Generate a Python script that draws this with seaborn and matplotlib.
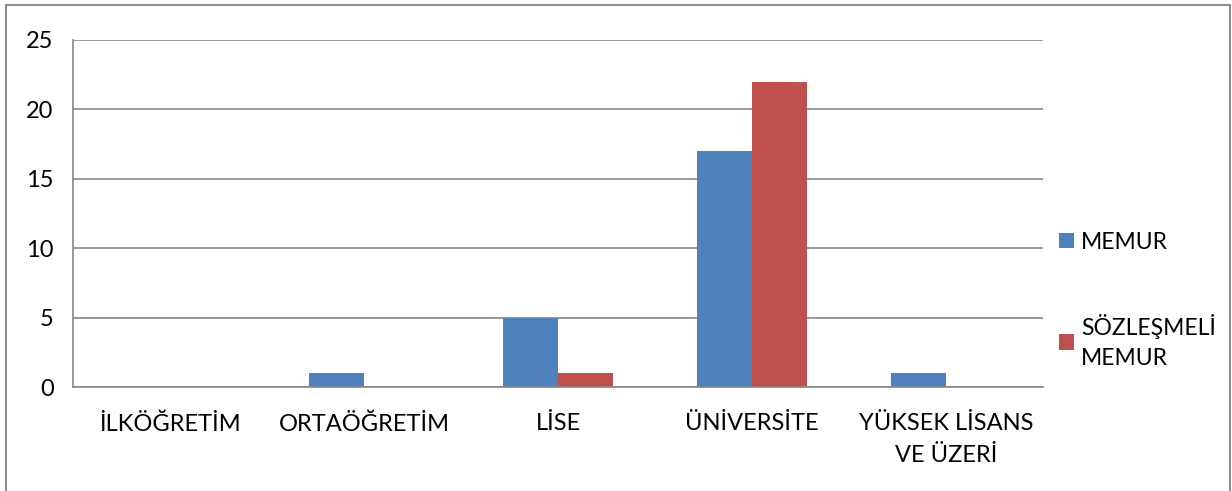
import matplotlib
matplotlib.use("Agg")
import matplotlib.pyplot as plt
import pandas as pd
import seaborn as sns
from matplotlib.patches import Rectangle

# Eğitim durumuna göre personel sayıları
egitim = ["İLKÖĞRETİM", "ORTAÖĞRETİM", "LİSE", "ÜNİVERSİTE", "YÜKSEK LİSANS\nVE ÜZERİ"]
memur = [0, 1, 5, 17, 1]
sozlesmeli = [0, 0, 1, 22, 0]
seriler = ["MEMUR", "SÖZLEŞMELİ\nMEMUR"]
renkler = ["#4F81BD", "#C0504D"]

df = pd.DataFrame({
    "egitim": egitim * 2,
    "sayi": memur + sozlesmeli,
    "kadro": [seriler[0]] * len(egitim) + [seriler[1]] * len(egitim),
})

sns.set_style("white")
plt.rcParams["font.family"] = ["Lato", "DejaVu Sans"]
plt.rcParams["text.color"] = "black"
plt.rcParams["xtick.color"] = "black"
plt.rcParams["ytick.color"] = "black"

fig = plt.figure(figsize=(12.32, 4.91), dpi=100)
ax = fig.add_axes([73 / 1232, 1 - 387 / 491, (1043 - 73) / 1232, (387 - 40) / 491])

sns.barplot(data=df, x="egitim", y="sayi", hue="kadro", palette=renkler,
            width=0.567, gap=0, ax=ax, saturation=1, edgecolor="none")

grid_c = "#868686"
fs = 17
ax.set_ylim(0, 25)
ax.set_xlim(-0.5, len(egitim) - 0.5)
ax.set_yticks(range(0, 26, 5))
ax.yaxis.grid(True, color=grid_c, linewidth=1.2)
ax.set_axisbelow(True)
for s in ["top", "right"]:
    ax.spines[s].set_visible(False)
for s in ["left", "bottom"]:
    ax.spines[s].set_color(grid_c)
    ax.spines[s].set_linewidth(1.2)

ax.set_xlabel("")
ax.set_ylabel("")
ax.tick_params(axis="y", length=8, color=grid_c, width=1.2, labelsize=fs, pad=6)
ax.tick_params(axis="x", which="major", length=0, labelsize=fs, pad=19)
for lbl in ax.get_xticklabels():
    lbl.set_linespacing(1.6)
ax.set_xticks([i + 0.5 for i in range(-1, len(egitim))], minor=True)
ax.tick_params(axis="x", which="minor", length=9, color=grid_c, width=1.2)

leg = ax.legend(title=None, frameon=False, fontsize=16.5, loc="center left",
                bbox_to_anchor=(1.0, 0.25), handlelength=0.65, handleheight=0.65,
                handletextpad=0.3, labelspacing=2.7, borderaxespad=0.3)
for t in leg.get_texts():
    t.set_linespacing(1.5)

# Dış çerçeve
fig.patches.append(Rectangle((6 / 1232, -0.1), 1224 / 1232, 1.1 - 5 / 491,
                             transform=fig.transFigure, fill=False,
                             edgecolor="#8c8c8c", linewidth=1.5))

fig.savefig("out.png", dpi=100)
